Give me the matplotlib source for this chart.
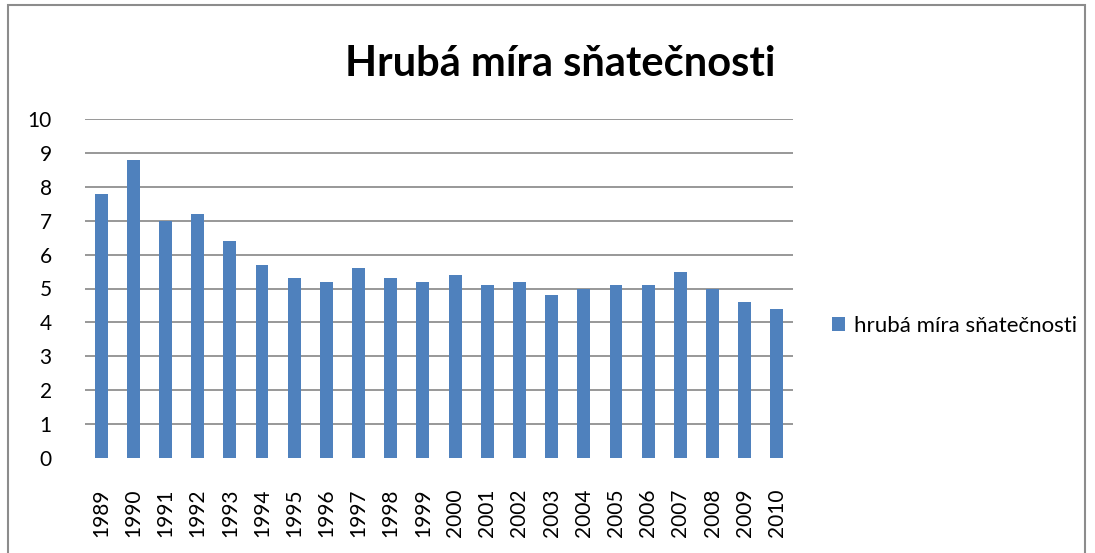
import numpy as np
import matplotlib.pyplot as plt
from matplotlib.patches import Rectangle, Patch

plt.rcParams['font.family'] = ['Lato', 'DejaVu Sans']

years = [str(y) for y in range(1989, 2011)]
values = [7.8, 8.8, 7.0, 7.2, 6.4, 5.7, 5.3, 5.2, 5.6, 5.3, 5.2,
          5.4, 5.1, 5.2, 4.8, 5.0, 5.1, 5.1, 5.5, 5.0, 4.6, 4.4]
series_name = "hrubá míra sňatečnosti"
title = "Hrubá míra sňatečnosti"

BAR = '#4F81BD'
GRID = '#868686'
W, H = 1095, 553

fig = plt.figure(figsize=(W / 100, H / 100), dpi=100)

# chart area border
fig.patches.append(Rectangle((8 / W, -0.01), 1077 / W, (H - 5) / H + 0.01,
                             transform=fig.transFigure, fill=False,
                             edgecolor='#8c8c8c', linewidth=1.5))

ax = fig.add_axes([85 / W, (H - 458) / H, 708 / W, 339 / H])
x = np.arange(len(years))
ax.bar(x, values, width=0.4, color=BAR, zorder=3)

ax.set_xlim(-0.5, len(years) - 0.5)
ax.set_ylim(0, 10)
ax.set_yticks(range(0, 11))
for v in range(1, 11):
    ax.axhline(v, color=GRID, linewidth=1.2, zorder=1)
for s in ax.spines.values():
    s.set_visible(False)
ax.tick_params(axis='both', length=0, labelsize=15)
ax.tick_params(axis='y', pad=24)
ax.tick_params(axis='x', pad=22)
ax.set_xticks(x)
ax.set_xticklabels(years, rotation=90)

fig.text(560 / W, 1 - 64 / H, title, ha='center', va='center',
         fontsize=30, fontweight='bold')

handle = Patch(facecolor=BAR, edgecolor='none')
fig.legend([handle], [series_name], loc='center left',
           bbox_to_anchor=(812 / W, 1 - 326 / H), frameon=False,
           fontsize=16, handlelength=0.6, handleheight=0.6, handletextpad=0.4)

fig.savefig('out.png', dpi=100)
